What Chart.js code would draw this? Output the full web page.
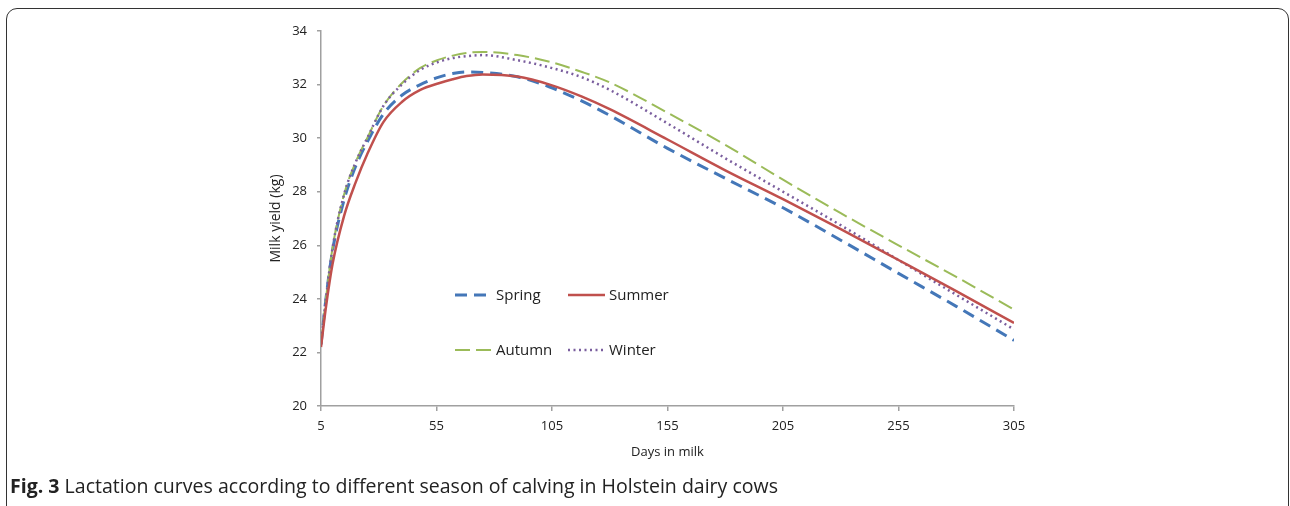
<!DOCTYPE html>
<html>
<head>
<meta charset="utf-8">
<script src="https://cdn.jsdelivr.net/npm/chart.js@4.4.0/dist/chart.umd.min.js"></script>
<style>
html, body { margin: 0; padding: 0; background: #fff; }
body { width: 1290px; height: 506px; position: relative; overflow: hidden; font-family: "Open Sans", sans-serif; }
#frame { position: absolute; left: 6px; top: 8px; width: 1283px; height: 560px; border: 1.5px solid #333; border-radius: 11px; box-sizing: border-box; }
#wrap { position: absolute; left: 0; top: 0; width: 1290px; height: 506px; }
#cap { position: absolute; left: 10px; top: 472px; font-size: 20px; color: #222; white-space: nowrap; transform-origin: 0 0;
       font-family: "Liberation Sans Narrow", "Open Sans", sans-serif; }
</style>
</head>
<body>
<div id="frame"></div>
<div id="wrap"><canvas id="mychart" width="1290" height="506"></canvas></div>
<div id="cap"><b>Fig. 3</b> Lactation curves according to different season of calving in Holstein dairy cows</div>
<script>
var days = [5, 7, 10, 15, 20, 25, 32, 40, 48, 56, 62, 68, 75, 90, 104, 118, 130, 155, 180, 205, 230, 255, 280, 305];

var spring = [22.3, 23.9, 25.8, 27.7, 28.95, 29.85, 30.9, 31.6, 32.0, 32.28, 32.41, 32.47, 32.45, 32.29, 31.91, 31.38, 30.85, 29.62, 28.5, 27.4, 26.19, 24.95, 23.72, 22.45];
var summer = [22.2, 23.6, 25.3, 27.1, 28.35, 29.4, 30.6, 31.35, 31.8, 32.05, 32.2, 32.32, 32.38, 32.3, 32.0, 31.55, 31.08, 29.95, 28.8, 27.72, 26.6, 25.45, 24.29, 23.1];
var autumn = [22.3, 23.9, 25.9, 27.9, 29.1, 30.0, 31.2, 32.05, 32.62, 32.93, 33.08, 33.18, 33.22, 33.1, 32.85, 32.47, 32.08, 30.95, 29.75, 28.45, 27.2, 26.0, 24.82, 23.6];
var winter = [22.3, 23.9, 25.9, 27.9, 29.1, 30.0, 31.2, 32.0, 32.55, 32.85, 32.99, 33.06, 33.1, 32.91, 32.64, 32.27, 31.8, 30.55, 29.25, 28.0, 26.75, 25.45, 24.15, 22.86];

var seasons = ["Spring", "Summer", "Autumn", "Winter"];
var xTicks = [5, 55, 105, 155, 205, 255, 305];
var yTicks = [20, 22, 24, 26, 28, 30, 32, 34];

function pts(vals) {
  var out = [];
  for (var i = 0; i < days.length; i++) out.push({x: days[i], y: vals[i]});
  return out;
}

var styles = [
  {color: "#4477b8", width: 3, dash: [12, 7]},
  {color: "#c0504d", width: 2.5, dash: []},
  {color: "#9bbb59", width: 2, dash: [15, 6]},
  {color: "#7a5e9e", width: 2.5, dash: [2, 3.5]}
];
var series = [spring, summer, autumn, winter];

var datasets = [];
for (var i = 0; i < series.length; i++) {
  datasets.push({
    label: seasons[i],
    data: pts(series[i]),
    borderColor: styles[i].color,
    borderWidth: styles[i].width,
    borderDash: styles[i].dash,
    borderCapStyle: "butt",
    pointRadius: 0,
    fill: false,
    cubicInterpolationMode: "monotone"
  });
}
// draw summer last so the solid line sits on top like in the figure
var order = [0, 2, 3, 1];
datasets.forEach(function (d, i) { d.order = -order.indexOf(i); });

// legend drawn inside the plot, two rows of two
var legendSpots = [[455, 295], [568, 295], [455, 350], [568, 350]];
var insideLegend = {
  id: "insideLegend",
  afterDraw: function (chart) {
    var ctx = chart.ctx;
    ctx.save();
    ctx.font = "15px 'Open Sans', sans-serif";
    ctx.fillStyle = "#222";
    ctx.textBaseline = "middle";
    for (var i = 0; i < seasons.length; i++) {
      var p = legendSpots[i];
      ctx.strokeStyle = styles[i].color;
      ctx.lineWidth = styles[i].width;
      ctx.setLineDash(styles[i].dash);
      ctx.beginPath();
      ctx.moveTo(p[0], p[1]);
      ctx.lineTo(p[0] + 37, p[1]);
      ctx.stroke();
      ctx.setLineDash([]);
      ctx.fillText(seasons[i], p[0] + 41, p[1] + 0.5);
    }
    ctx.restore();
  }
};

var axisColor = "#a0a0a0";
var tickFont = {family: "'Open Sans', sans-serif", size: 13};
var titleFont = {family: "'Open Sans', sans-serif", size: 14};

var ctx = document.getElementById("mychart");
var myChart = new Chart(ctx, {
  type: "line",
  data: {datasets: datasets},
  options: {
    responsive: false,
    animation: false,
    layout: {padding: {left: 261, right: 276, top: 31, bottom: 44}},
    plugins: {legend: {display: false}, tooltip: {enabled: false}},
    scales: {
      x: {
        type: "linear", min: 5, max: 305,
        afterBuildTicks: function (s) { s.ticks = xTicks.map(function (v) { return {value: v}; }); },
        afterFit: function (s) { s.height = 56; },
        grid: {drawOnChartArea: false, color: axisColor, tickLength: 5, lineWidth: 1.5},
        border: {color: axisColor, width: 1.5},
        ticks: {color: "#222", font: tickFont, padding: 7, maxRotation: 0},
        title: {display: true, text: "Days in milk", color: "#222", font: tickFont, padding: {top: 0, bottom: 2}}
      },
      y: {
        min: 20, max: 34,
        afterBuildTicks: function (s) { s.ticks = yTicks.map(function (v) { return {value: v}; }); },
        afterFit: function (s) { s.width = 60; },
        grid: {drawOnChartArea: false, color: axisColor, tickLength: 4, lineWidth: 1.5},
        border: {color: axisColor, width: 1.5},
        ticks: {color: "#222", font: tickFont, padding: 10},
        title: {display: true, text: "Milk yield (kg)", color: "#222", font: titleFont, padding: {top: 7, bottom: 0}}
      }
    }
  },
  plugins: [insideLegend]
});

// stretch caption to the width it has in the figure
var cap = document.getElementById("cap");
var w = cap.getBoundingClientRect().width;
cap.style.transform = "scaleX(" + (768 / w) + ")";
</script>
</body>
</html>
